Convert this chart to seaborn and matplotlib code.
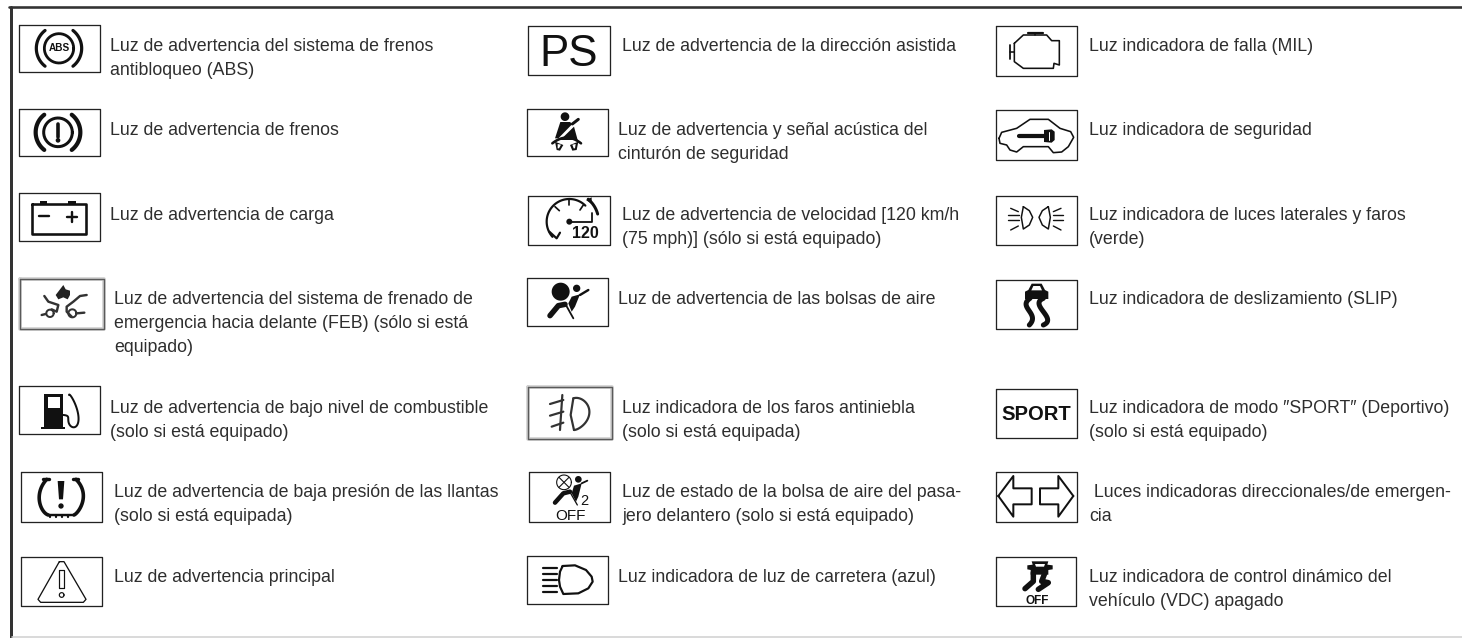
import matplotlib
matplotlib.use("Agg")
import matplotlib.pyplot as plt
import numpy as np
import seaborn as sns

# Label text per column, one entry per row
LABELS_LEFT = [
    ["Luz de advertencia del sistema de frenos", "antibloqueo (ABS)"],
    ["Luz de advertencia de frenos"],
    ["Luz de advertencia de carga"],
    ["Luz de advertencia del sistema de frenado de",
     "emergencia hacia delante (FEB) (sólo si está", "equipado)"],
    ["Luz de advertencia de bajo nivel de combustible", "(solo si está equipado)"],
    ["Luz de advertencia de baja presión de las llantas", "(solo si está equipada)"],
    ["Luz de advertencia principal"],
]
LABELS_MIDDLE = [
    ["Luz de advertencia de la dirección asistida"],
    ["Luz de advertencia y señal acústica del", "cinturón de seguridad"],
    ["Luz de advertencia de velocidad [120 km/h", "(75 mph)] (sólo si está equipado)"],
    ["Luz de advertencia de las bolsas de aire"],
    ["Luz indicadora de los faros antiniebla", "(solo si está equipada)"],
    ["Luz de estado de la bolsa de aire del pasa-", "jero delantero (solo si está equipado)"],
    ["Luz indicadora de luz de carretera (azul)"],
]
LABELS_RIGHT = [
    ["Luz indicadora de falla (MIL)"],
    ["Luz indicadora de seguridad"],
    ["Luz indicadora de luces laterales y faros", "(verde)"],
    ["Luz indicadora de deslizamiento (SLIP)"],
    ["Luz indicadora de modo \u2033SPORT\u2033 (Deportivo)", "(solo si está equipado)"],
    [" Luces indicadoras direccionales/de emergen-", "cia"],
    ["Luz indicadora de control dinámico del", "vehículo (VDC) apagado"],
]
ROW_BASELINES = [51, 135, 220, 304, 413, 497, 582]
TEXT_X_LEFT = [110, 110, 110, 114, 110, 114, 114]
TEXT_X_MIDDLE = [622, 618, 622, 618, 622, 622, 618]
TEXT_X_RIGHT = [1089, 1089, 1089, 1089, 1089, 1089, 1089]

# Icon frames: left, right, top, bottom
BOXES = [
    (19, 99.5, 24.5, 72), (19, 99.5, 108.5, 156), (19, 99.5, 193, 241),
    (19, 99.5, 386, 434), (20.5, 102, 472, 521.5), (20.5, 102, 557, 606),
    (528, 610, 26, 75), (527, 608, 108.5, 156), (528, 610, 195.5, 245),
    (527, 608, 277.5, 325.5), (528.5, 610, 472, 521.5), (527, 608, 555.5, 603.5),
    (995.5, 1077, 26, 75.5), (995.5, 1077, 110, 159.5), (995.5, 1077, 195.5, 245),
    (995.5, 1077, 279.5, 328.5), (995.5, 1077, 388.5, 438), (995.5, 1077, 472, 521.5),
    (995.5, 1076, 557, 606),
]
BLURRED_BOXES = [(19.7, 104, 278.5, 329), (527.5, 612, 387, 438.5)]

INK = "#111111"
TEXT_COLOR = "#2e2e2e"

sns.set_theme(style="white")
plt.rcParams["font.family"] = ["Liberation Sans", "DejaVu Sans"]

fig = plt.figure(figsize=(14.62, 6.38), dpi=100)
ax = fig.add_axes([0, 0, 1, 1])


def line(pts, ox=0, oy=0, lw=1.0, color=INK, scale=1 / 3):
    # pts are in zoomed picture units, lw in pixels
    xs = [ox + p[0] * scale for p in pts]
    ys = [oy + p[1] * scale for p in pts]
    sns.lineplot(x=xs, y=ys, sort=False, estimator=None, color=color,
                 linewidth=lw * 0.72, ax=ax, legend=False)


def fill(pts, ox=0, oy=0, color=INK, scale=1 / 3):
    ax.fill([ox + p[0] * scale for p in pts], [oy + p[1] * scale for p in pts],
            color=color, lw=0)


def arc(cx, cy, r, a0, a1, ox=0, oy=0, lw=1.0, color=INK):
    t = np.radians(np.linspace(a0, a1, 40))
    line(list(zip(cx + r * np.cos(t), cy - r * np.sin(t))), ox, oy, lw, color)


def disc(cx, cy, r, ox=0, oy=0, color=INK):
    t = np.radians(np.linspace(0, 360, 40))
    fill(list(zip(cx + r * np.cos(t), cy + r * np.sin(t))), ox, oy, color)


def curve(pts, ox=0, oy=0, lw=1.0, color=INK):
    # smooth line through hand picked points
    pts = np.array(pts, dtype=float)
    u = np.arange(len(pts))
    uu = np.linspace(0, len(pts) - 1, len(pts) * 8)
    coef_x = np.polyfit(u, pts[:, 0], min(len(pts) - 1, 5))
    coef_y = np.polyfit(u, pts[:, 1], min(len(pts) - 1, 5))
    line(list(zip(np.polyval(coef_x, uu), np.polyval(coef_y, uu))), ox, oy, lw, color)


def label(txt, x, baseline, size=12.8, **kw):
    ax.text(x, baseline, txt, fontsize=size, color=kw.pop("color", TEXT_COLOR),
            va="baseline", **kw)


# Page rules
line([(10.5, 7), (10.5, 638)], lw=3, color="#333333", scale=1)
line([(9, 7.3), (1462, 7.3)], lw=2.6, color="#333333", scale=1)
line([(12, 637.3), (1462, 637.3)], lw=1.6, color="#d2d2d2", scale=1)

# Frames
for l, r, t, b in BOXES:
    line([(l, t), (r, t), (r, b), (l, b), (l, t)], lw=1.3, color="#222222", scale=1)
for l, r, t, b in BLURRED_BOXES:
    line([(l, t), (r, t), (r, b), (l, b), (l, t)], lw=3.6, color="#cfcfcf", scale=1)
    line([(l, t), (r, t), (r, b), (l, b), (l, t)], lw=1.4, color="#5a5a5a", scale=1)

# Labels
for labels, xs in [(LABELS_LEFT, TEXT_X_LEFT), (LABELS_MIDDLE, TEXT_X_MIDDLE),
                   (LABELS_RIGHT, TEXT_X_RIGHT)]:
    for lines, x, base in zip(labels, xs, ROW_BASELINES):
        for k, txt in enumerate(lines):
            label(txt, x, base + k * 24)

# --- left column icons ---
# ABS
arc(177, 145, 44, 0, 360, lw=2.8)
arc(177, 145, 68, 128, 232, lw=3.2)
arc(177, 145, 68, -52, 52, lw=3.2)
ax.text(59, 48.4, "ABS", fontsize=7.2, fontweight="bold", ha="center", va="center", color=INK)

# brake
arc(174, 397, 43, 0, 360, lw=3)
arc(174, 397, 67, 128, 232, lw=4.2)
arc(174, 397, 67, -52, 52, lw=4.2)
line([(174, 372), (174, 412)], lw=3.6)
disc(174, 421, 7)

# battery
line([(97, 613), (257, 613), (257, 703), (97, 703), (97, 613)], lw=2.6)
fill([(120, 603), (142, 603), (142, 613), (120, 613)])
fill([(205, 603), (228, 603), (228, 613), (205, 613)])
line([(118, 648), (146, 648)], lw=2.4)
line([(201, 650), (231, 650)], lw=2.4)
line([(216, 635), (216, 665)], lw=2.4)

# FEB
fill([(145, 45), (152, 58), (165, 62), (165, 75), (158, 88), (145, 82), (130, 88), (122, 75), (132, 62)],
     15, 270, color="#222222")
for pts in [
    [(88, 78), (100, 95), (130, 105), (125, 125), (110, 118)],
    [(215, 75), (195, 78), (175, 95), (155, 110), (155, 125), (170, 140)],
    [(185, 130), (208, 128)],
    [(80, 135), (92, 132)],
]:
    line(pts, 15, 270, lw=2.4, color="#333333")
arc(105, 130, 11, 0, 360, 15, 270, lw=2, color="#333333")
arc(172, 130, 12, 0, 360, 15, 270, lw=2, color="#333333")

# fuel
fill([(133, 222), (190, 222), (190, 320), (195, 320), (195, 327), (123, 327), (123, 320), (133, 320)], 0, 320)
fill([(145, 232), (180, 232), (180, 263), (145, 263)], 0, 320, color="white")
curve([(190, 285), (205, 295), (208, 315), (225, 320), (235, 300), (225, 250), (207, 225)], 0, 320, lw=2)

# tyre pressure
curve([(140, 478), (118, 525), (125, 565), (145, 585)], 0, 320, lw=3.6)
curve([(228, 478), (250, 525), (240, 565), (222, 585)], 0, 320, lw=3.6)
line([(145, 585), (222, 585)], 0, 320, lw=2.4)
line([(130, 478), (148, 478)], 0, 320, lw=3.4)
line([(218, 478), (235, 478)], 0, 320, lw=3.4)
fill([(173, 483), (193, 483), (189, 538), (177, 538)], 0, 320)
disc(183, 558, 8, 0, 320)
for tx in [150, 168, 186, 204]:
    line([(tx, 586), (tx, 592)], 0, 320, lw=2.2)

# master warning
line([(178, 725), (192, 725), (258, 838), (250, 847), (122, 847), (114, 838), (178, 725)], 0, 320, lw=1.3)
line([(178, 750), (192, 750), (192, 805), (178, 805), (178, 750)], 0, 320, lw=1.2)
arc(185, 825, 7, 0, 360, 0, 320, lw=1.2)

# --- middle column icons ---
ax.text(569, 66, "PS", fontsize=31.6, ha="center", va="baseline", color=INK)

# seat belt
disc(120, 50, 13, 525, 100)
fill([(106, 66), (135, 66), (142, 72), (100, 115), (90, 115)], 525, 100)
fill([(147, 80), (158, 120), (106, 120)], 525, 100)
line([(142, 72), (160, 58)], 525, 100, lw=3)
curve([(82, 130), (125, 113), (168, 130)], 525, 100, lw=2.6)
fill([(90, 125), (115, 135), (105, 152), (95, 150)], 525, 100)
fill([(135, 135), (160, 125), (155, 150), (142, 152)], 525, 100)
fill([(98, 132), (108, 134), (102, 145), (98, 145)], 525, 100, color="white")
fill([(142, 134), (152, 132), (150, 145), (146, 145)], 525, 100, color="white")

# speed warning
arc(208, 665, 68, 90, 222, 500, 0, lw=2.2)
arc(208, 665, 68, 45, 90, 500, 0, lw=2.2)
arc(208, 665, 88, 15, 50, 500, 0, lw=3)
line([(208, 597), (208, 615)], 500, 0, lw=1.7)
line([(165, 620), (178, 632)], 500, 0, lw=1.7)
line([(250, 615), (240, 630)], 500, 0, lw=1.7)
line([(208, 665), (277, 665), (277, 640)], 500, 0, lw=1.8)
disc(208, 665, 9, 500, 0)
line([(148, 695), (170, 715), (180, 698)], 500, 0, lw=2.2)
fill([(258, 600), (275, 592), (275, 612)], 500, 0)
ax.text(585, 238.5, "120", fontsize=11.5, fontweight="bold", ha="center", va="baseline", color=INK)

# airbag
disc(107, 50, 27, 525, 275)
disc(155, 40, 11, 525, 275)
fill([(140, 65), (165, 58), (150, 95), (140, 110), (130, 85)], 525, 275)
line([(165, 60), (190, 45)], 525, 275, lw=2.4)
line([(120, 85), (145, 130)], 525, 275, lw=1.8)
line([(75, 122), (100, 92), (120, 88)], 525, 275, lw=5.5)

# fog light
for pts in [[(150, 252), (190, 240)], [(150, 287), (190, 275)], [(155, 320), (190, 308)],
            [(187, 225), (180, 330)]]:
    line(pts, 500, 320, lw=2.2, color="#333333")
curve([(220, 235), (255, 245), (268, 280), (250, 315), (222, 330)], 500, 320, lw=2.2, color="#333333")
line([(220, 235), (212, 285), (222, 330)], 500, 320, lw=2.2, color="#333333")

# passenger airbag off
arc(192, 487, 22, 0, 360, 500, 320, lw=1.1)
line([(177, 472), (207, 502)], 500, 320, lw=1.1)
line([(177, 502), (207, 472)], 500, 320, lw=1.1)
disc(235, 478, 10, 500, 320)
fill([(222, 497), (245, 490), (235, 530), (228, 545), (215, 520)], 500, 320)
line([(245, 490), (262, 482)], 500, 320, lw=1.8)
line([(165, 548), (190, 520), (210, 515)], 500, 320, lw=4.5)
line([(212, 520), (232, 555)], 500, 320, lw=1.3)
ax.text(584, 505, "2", fontsize=10.5, ha="center", va="baseline", color=INK)
ax.text(570.5, 519.5, "OFF", fontsize=11, ha="center", va="baseline", color=INK)

# high beam
for hy in [745, 762, 780, 797, 815]:
    line([(130, hy), (172, hy)], 500, 320, lw=2.2)
line([(188, 738), (225, 736), (258, 750), (275, 770), (278, 785), (265, 805), (235, 820), (190, 822),
      (180, 800), (177, 780), (180, 755), (188, 738)], 500, 320, lw=2.2)

# --- right column icons ---
# engine
line([(103, 130), (130, 105), (200, 105), (215, 122), (238, 122), (238, 195), (222, 190), (220, 205),
      (130, 205), (103, 185), (103, 130)], 980, 0, lw=1.6)
line([(145, 98), (188, 98)], 980, 0, lw=2.2)
line([(165, 98), (165, 105)], 980, 0, lw=1.6)
line([(90, 135), (90, 178)], 980, 0, lw=1.8)
line([(90, 157), (103, 157)], 980, 0, lw=1.6)

# security
line([(57, 415), (65, 397), (110, 385), (150, 358), (205, 358), (240, 385), (272, 395), (281, 412), (265, 440),
      (245, 456), (220, 458), (205, 440), (130, 440), (110, 456), (90, 450), (80, 435), (60, 430), (57, 415)],
     980, 0, lw=1.6)
line([(118, 407), (195, 407)], 980, 0, lw=4.2)
fill([(192, 390), (215, 388), (224, 395), (224, 420), (215, 428), (192, 426)], 980, 0)
line([(208, 395), (208, 420)], 980, 0, lw=1, color="white")

# side lights
line([(130, 620), (148, 632), (158, 652), (148, 675), (130, 687), (124, 652), (130, 620)], 980, 0, lw=1.5)
line([(205, 620), (187, 632), (177, 652), (187, 675), (205, 687), (211, 652), (205, 620)], 980, 0, lw=1.5)
for pts in [[(92, 625), (115, 635)], [(85, 645), (118, 645)], [(85, 660), (118, 660)], [(92, 690), (115, 678)],
            [(220, 635), (243, 625)], [(220, 645), (250, 645)], [(220, 660), (250, 660)], [(220, 678), (243, 690)]]:
    line(pts, 980, 0, lw=1.4)

# slip
fill([(115, 45), (125, 26), (155, 26), (165, 45), (175, 50), (175, 72), (105, 72), (105, 50)], 990, 275)
fill([(124, 46), (130, 33), (150, 33), (156, 46)], 990, 275, color="white")
curve([(120, 70), (110, 95), (125, 120), (118, 150)], 990, 275, lw=5)
curve([(160, 70), (150, 95), (170, 125), (160, 150)], 990, 275, lw=5)

# sport
ax.text(1036.7, 420, "SPORT", fontsize=14.6, fontweight="bold", ha="center", va="baseline", color=INK)

# turn signals
line([(55, 528), (100, 468), (100, 505), (155, 505), (155, 553), (100, 553), (100, 590), (55, 528)],
     980, 320, lw=2)
line([(280, 528), (235, 468), (235, 505), (180, 505), (180, 553), (235, 553), (235, 590), (280, 528)],
     980, 320, lw=2)

# vdc off
fill([(125, 28), (175, 28), (172, 38), (188, 40), (188, 52), (175, 54), (175, 68), (122, 68), (122, 54),
      (112, 52), (112, 40), (128, 38)], 990, 552)
fill([(135, 36), (165, 36), (162, 44), (138, 44)], 990, 552, color="white")
line([(130, 62), (130, 88), (105, 110)], 990, 552, lw=5.5)
line([(165, 62), (155, 88), (175, 92), (145, 112)], 990, 552, lw=5.5)
ax.text(1037.5, 604, "OFF", fontsize=8.5, fontweight="bold", ha="center", va="baseline", color=INK)

ax.set_xlim(0, 1462)
ax.set_ylim(638, 0)
ax.set_axis_off()
fig.savefig("out.png", dpi=100, facecolor="white")
